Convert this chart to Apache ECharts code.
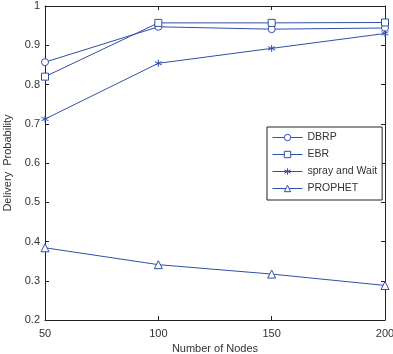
<!DOCTYPE html>
<html>
<head>
<meta charset="utf-8">
<script src="https://cdn.jsdelivr.net/npm/echarts@6/dist/echarts.min.js"></script>
<style>
html, body { margin: 0; padding: 0; background: #fff; }
#chart { width: 393px; height: 354px; }
</style>
</head>
<body>
<div id="chart"></div>
<script>
var nodes = [50, 100, 150, 200];
var dbrp = [0.857, 0.947, 0.941, 0.944];
var ebr = [0.820, 0.957, 0.957, 0.958];
var sprayWait = [0.712, 0.854, 0.892, 0.930];
var prophet = [0.384, 0.341, 0.317, 0.288];
var yTicks = [0.2, 0.3, 0.4, 0.5, 0.6, 0.7, 0.8, 0.9, 1];

var blue = '#2f4fa8';
var frame = '#222';
// hollow markers as paths so the legend keeps thin outlines too
var circlePath = 'path://M10,5A5,5,0,1,1,0,5A5,5,0,1,1,10,5Z';
var rectPath = 'path://M0,0L10,0L10,10L0,10Z';
var triPath = 'path://M5,0L10,9L0,9Z';
var starPath = 'path://M5,0L5,10M0.7,2.5L9.3,7.5M0.7,7.5L9.3,2.5';

function pairs(ys) {
	var out = [];
	for (var i = 0; i < nodes.length; i++) {
		out.push([nodes[i], ys[i]]);
	}
	return out;
}

function mkSeries(name, ys, symbol, size) {
	return {
		name : name,
		type : 'line',
		data : pairs(ys),
		symbol : symbol,
		symbolSize : size,
		showAllSymbol : true,
		lineStyle : { color : blue, width : 1 },
		itemStyle : { color : '#fff', borderColor : blue, borderWidth : 1 },
		emphasis : { disabled : true },
		animation : false
	};
}

var chart = echarts.init(document.getElementById('chart'));
var tick = { show : true, inside : true, length : 4, lineStyle : { color : frame } };
var line = { show : true, lineStyle : { color : frame, width : 1 } };

var option = {
	textStyle : { fontFamily : 'Liberation Sans' },
	grid : { left : 45, right : 8, top : 6, bottom : 34, outerBoundsMode : 'none', containLabel : false },
	legend : {
		orient : 'vertical',
		left : 267,
		top : 127,
		padding : [5, 5, 6, 5],
		itemGap : 6,
		itemWidth : 30,
		itemHeight : 8,
		borderColor : frame,
		borderWidth : 1,
		backgroundColor : '#fff',
		itemStyle : { borderWidth : 1 },
		lineStyle : { width : 1 },
		textStyle : { fontFamily : 'Liberation Sans', fontSize : 10.5, color : '#333' },
		data : ['DBRP', 'EBR', 'spray and Wait', 'PROPHET']
	},
	xAxis : [{
		type : 'value',
		min : 50,
		max : 200,
		interval : 50,
		name : 'Number of Nodes',
		nameLocation : 'middle',
		nameGap : 18,
		nameTextStyle : { fontFamily : 'Liberation Sans', fontSize : 11, color : '#333' },
		axisLine : line,
		axisTick : tick,
		axisLabel : { fontFamily : 'Liberation Sans', fontSize : 11, color : '#333' },
		splitLine : { show : false }
	}, {
		type : 'value',
		position : 'top',
		min : 50,
		max : 200,
		interval : 50,
		axisLine : line,
		axisTick : tick,
		axisLabel : { show : false },
		splitLine : { show : false }
	}],
	yAxis : [{
		type : 'value',
		min : yTicks[0],
		max : yTicks[yTicks.length - 1],
		interval : 0.1,
		name : 'Delivery  Probability',
		nameLocation : 'middle',
		nameGap : 26,
		nameTextStyle : { fontFamily : 'Liberation Sans', fontSize : 11, color : '#333' },
		axisLine : line,
		axisTick : tick,
		axisLabel : {
			fontFamily : 'Liberation Sans', fontSize : 11, color : '#333', margin : 5,
			formatter : function(v) { return String(Math.round(v * 10) / 10); }
		},
		splitLine : { show : false }
	}, {
		type : 'value',
		position : 'right',
		min : yTicks[0],
		max : yTicks[yTicks.length - 1],
		interval : 0.1,
		axisLine : line,
		axisTick : tick,
		axisLabel : { show : false },
		splitLine : { show : false }
	}],
	series : [
		mkSeries('DBRP', dbrp, circlePath, 7),
		mkSeries('EBR', ebr, rectPath, 7),
		mkSeries('spray and Wait', sprayWait, starPath, 7),
		mkSeries('PROPHET', prophet, triPath, 8)
	]
};
chart.setOption(option);
</script>
</body>
</html>
